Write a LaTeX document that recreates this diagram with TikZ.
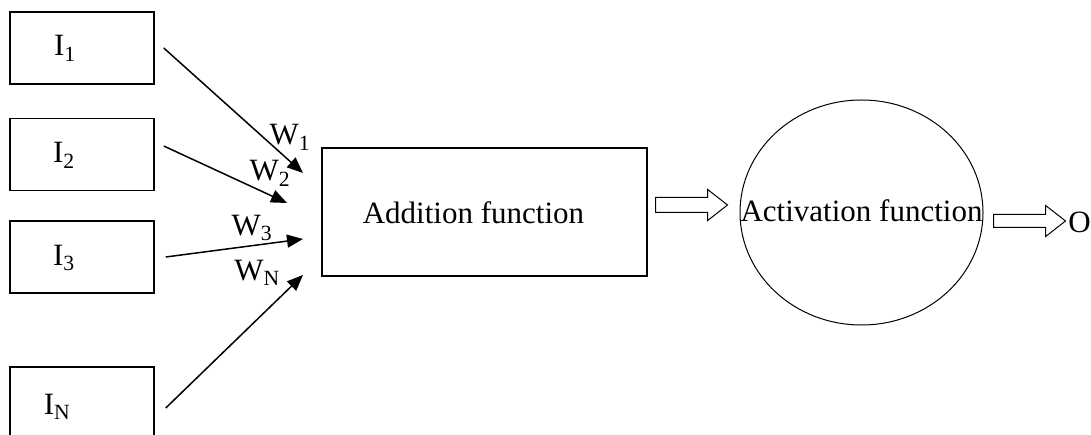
\documentclass[tikz,border=0pt]{standalone}
\usepackage{fontspec}
\setmainfont{Liberation Serif}
\usetikzlibrary{arrows.meta,shapes.geometric,shapes.arrows}

\begin{document}
\begin{tikzpicture}[x=1pt,y=-1pt,
    font=\fontsize{31}{37}\selectfont,
    inbox/.style={draw,line width=1.5pt,minimum width=144pt,minimum height=72pt,inner sep=0pt},
    wire/.style={line width=1.5pt,-{Triangle[length=16pt,width=13pt]}},
    fatarrow/.style={single arrow,draw,line width=1pt,inner xsep=0pt,minimum height=72pt,minimum width=30pt,single arrow tip angle=76,anchor=tail}]

    \clip (0,0) rectangle (1091,435);

    \node[inbox] (i1) at (82,48) {};
    \node[inbox] (i2) at (82,154.5) {};
    \node[inbox] (i3) at (82,257) {};
    \node[inbox] (iN) at (82,403) {};

    \node[inner sep=0pt] (l1) at (65,48)  {I\textsubscript{1}};
    \node[inner sep=0pt] (l2) at (64,155) {I\textsubscript{2}};
    \node[inner sep=0pt] (l3) at (64,258) {I\textsubscript{3}};
    \node[inner sep=0pt] (lN) at (57,407) {I\textsubscript{N}};

    \coordinate (p1) at (303,173);
    \coordinate (p2) at (287,203);
    \coordinate (p3) at (303,239);
    \coordinate (pN) at (303,275);

    \draw[wire] ([xshift=9pt]i1.east) -- (p1);
    \draw[wire] ([xshift=9pt,yshift=8.5pt]i2.east) -- (p2);
    \draw[wire] ([xshift=11pt]i3.east) -- (p3);
    \draw[wire] ([xshift=11pt,yshift=-5pt]iN.east) -- (pN);

    \node[inner sep=0pt] (w1) at (290,137) {W\textsubscript{1}};
    \node[inner sep=0pt] (w2) at (270,173) {W\textsubscript{2}};
    \node[inner sep=0pt] (w3) at (252,228) {W\textsubscript{3}};
    \node[inner sep=0pt] (wN) at (257,273) {W\textsubscript{N}};

    \node[draw,line width=1.5pt,minimum width=325pt,minimum height=128pt,inner sep=0pt,
        label={[name=addlab,inner sep=0pt,xshift=-11pt,yshift=-1pt]center:Addition function}] (add) at (484.5,212) {};

    \node[fatarrow,inner ysep=7pt,single arrow head extend=8pt] (a1) at (655,205) {};

    \node[ellipse,draw,line width=1pt,minimum width=243pt,minimum height=225pt,inner sep=0pt,
        label={[name=actlab,inner sep=0pt,yshift=2pt]center:Activation function}] (act) at (861.5,212.5) {};

    \node[fatarrow,inner ysep=6pt,single arrow head extend=9pt] (a2) at (993,221) {};

    \node[inner sep=0pt] (out) at (1079.5,222) {O};

\end{tikzpicture}
\end{document}
